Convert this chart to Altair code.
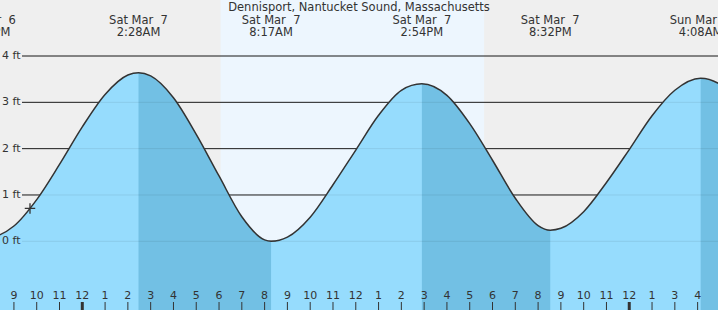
import altair as alt
import pandas as pd

W, H = 718, 310
# visible time window, hours from midnight Sat Mar 7 (standard time)
T0, T1 = -3.611, 27.894
# visible height window, ft
Y0, Y1 = -1.483, 5.209

TITLE = "Dennisport, Nantucket Sound, Massachusetts"

# tide curve, hourly plus the extremes (hours, ft)
curve_t = [-5, -4.09, -3, -2, -1, 0, 1, 2, 2.467, 3, 4, 5, 6, 7, 8, 8.283,
           9, 10, 11, 12, 13, 14, 14.9, 16, 17, 18, 19, 20, 20.533,
           21, 22, 23, 24, 25, 26, 27.133, 28, 29]
curve_ft = [0.20, 0.09, 0.33, 0.90, 1.66, 2.47, 3.17, 3.59, 3.64, 3.57, 3.10, 2.31, 1.41, 0.53, 0.03, 0.00,
            0.09, 0.52, 1.22, 1.97, 2.72, 3.26, 3.40, 3.15, 2.54, 1.75, 0.93, 0.34, 0.24,
            0.28, 0.64, 1.27, 1.98, 2.71, 3.26, 3.52, 3.38, 2.85]

# high / low events
event_t = [-4.09, 2.467, 8.283, 14.9, 20.533, 27.133]
event_kind = ["low", "high", "low", "high", "low", "high"]
event_date = ["Fri Mar \u00a06", "Sat Mar \u00a07", "Sat Mar \u00a07",
              "Sat Mar \u00a07", "Sat Mar \u00a07", "Sun Mar \u00a08"]
event_time = ["7:55PM", "2:28AM", "8:17AM", "2:54PM", "8:32PM", "4:08AM"]

# current time marker
now_t, now_ft = [-2.295], [0.71]

# daylight
day_start, day_end = [6.07], [17.63]

# hour ticks
hour_t = list(range(-3, 28))
hour_label = ["9", "10", "11", "12", "1", "2", "3", "4", "5", "6", "7", "8", "9", "10", "11",
              "12", "1", "2", "3", "4", "5", "6", "7", "8", "9", "10", "11",
              "12", "1", "3", "4"]
hour_midnight = [t in (0, 24) for t in hour_t]

# y grid
grid_ft = [0, 1, 2, 3, 4]
grid_label = ["0 ft", "1 ft", "2 ft", "3 ft", "4 ft"]

FONT = "DejaVu Sans"
TXT = "#333333"
LIGHT = "#96dcfd"
DARK = "#72c0e4"
DAY = "#edf6fe"
NIGHT = "#efefef"
INTERP = "monotone"

curve = pd.DataFrame({"t": curve_t, "ft": curve_ft})
curve["base"] = Y0

# falling segments (high -> next low)
highs = [t for t, k in zip(event_t, event_kind) if k == "high"]
lows = [t for t, k in zip(event_t, event_kind) if k == "low"]
seg = []
for t in curve_t:
    s = -1
    for i, h in enumerate(highs):
        nxt = [l for l in lows if l > h]
        end = nxt[0] if nxt else 1e9
        if h <= t <= end:
            s = i
    seg.append(s)
curve["seg"] = seg
falling_parts = [curve[curve["seg"] == i] for i in range(len(highs))]

events = pd.DataFrame({"t": event_t, "date": event_date, "time": event_time})
hours = pd.DataFrame({"t": hour_t, "label": hour_label,
                      "w": [3 if m else 1 for m in hour_midnight]})
grid = pd.DataFrame({"ft": grid_ft, "label": grid_label})
day = pd.DataFrame({"t": day_start, "t2": day_end})
now = pd.DataFrame({"t": now_t, "ft": now_ft})
title_df = pd.DataFrame({"label": [TITLE]})

xs = alt.Scale(domain=[T0, T1], nice=False, zero=False)
ys = alt.Scale(domain=[Y0, Y1], nice=False, zero=False)


def X(f="t"):
    return alt.X(f"{f}:Q", scale=xs, axis=None)


def Y(f="ft"):
    return alt.Y(f"{f}:Q", scale=ys, axis=None, stack=None)


day_rect = alt.Chart(day).mark_rect(color=DAY).encode(
    x=X(), x2="t2", y=alt.value(0), y2=alt.value(H))

grid_dark = alt.Chart(grid).mark_rule(color="#222222", strokeWidth=1).encode(
    y=Y(), x=alt.value(22), x2=alt.value(W))

light_area = alt.Chart(curve).mark_area(color=LIGHT, interpolate=INTERP, clip=True).encode(
    x=X(), y=Y(), y2="base:Q")

dark_areas = [
    alt.Chart(part).mark_area(color=DARK, interpolate=INTERP, clip=True).encode(
        x=X(), y=Y(), y2="base:Q")
    for part in falling_parts
]

grid_faint = alt.Chart(grid).mark_rule(color="#000000", strokeWidth=1, opacity=0.08).encode(
    y=Y(), x=alt.value(22), x2=alt.value(W))

line = alt.Chart(curve).mark_line(color="#333333", strokeWidth=1.5, interpolate=INTERP, clip=True).encode(
    x=X(), y=Y())

marker = alt.Chart(now).mark_point(shape="M-1,0L1,0M0,-1L0,1", size=110, filled=False,
                                   color="#333333", strokeWidth=1.3, opacity=1).encode(
    x=X(), y=Y())

ylabels = alt.Chart(grid).mark_text(font=FONT, fontSize=11, color=TXT, align="left",
                                    baseline="middle").encode(
    y=Y(), x=alt.value(2), text="label:N")

ticks = alt.Chart(hours).mark_rule(color="#333333").encode(
    x=X(), y=alt.value(302), y2=alt.value(H),
    strokeWidth=alt.StrokeWidth("w:Q", scale=None))

hlabels = alt.Chart(hours).mark_text(font=FONT, fontSize=11, color=TXT, align="center",
                                     baseline="alphabetic").encode(
    x=X(), y=alt.value(299), text="label:N")

date_lbl = alt.Chart(events).mark_text(font=FONT, fontSize=11.5, color=TXT, align="center",
                                       baseline="alphabetic").encode(
    x=X(), y=alt.value(24), text="date:N")

time_lbl = alt.Chart(events).mark_text(font=FONT, fontSize=11.5, color=TXT, align="center",
                                       baseline="alphabetic").encode(
    x=X(), y=alt.value(36), text="time:N")

title = alt.Chart(title_df).mark_text(font=FONT, fontSize=11.5, color=TXT, align="center",
                                      baseline="alphabetic").encode(
    x=alt.value(W / 2), y=alt.value(11), text="label:N")

chart = alt.layer(
    day_rect, grid_dark, light_area, *dark_areas, grid_faint, line, marker,
    ylabels, ticks, hlabels, date_lbl, time_lbl, title
).properties(
    width=W, height=H, padding=0,
    autosize=alt.AutoSizeParams(type="none"),
    background=NIGHT,
).configure_view(stroke=None, fill=NIGHT)

chart.save("out.html", embed_options={"renderer": "svg", "actions": False})
